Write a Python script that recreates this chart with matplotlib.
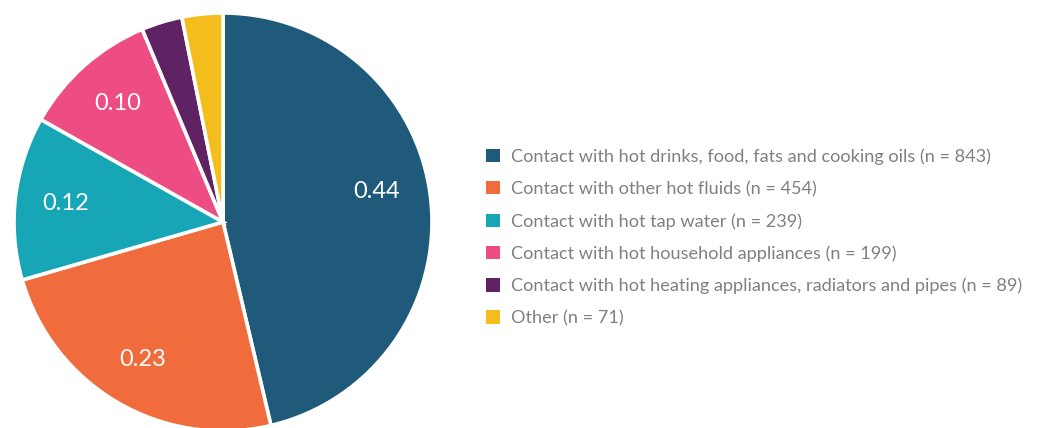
import matplotlib
matplotlib.use("Agg")
import matplotlib.pyplot as plt
from matplotlib.patches import Patch

# Share of burn injuries by cause
categories = [
    "Contact with hot drinks, food, fats and cooking oils",
    "Contact with other hot fluids",
    "Contact with hot tap water",
    "Contact with hot household appliances",
    "Contact with hot heating appliances, radiators and pipes",
    "Other",
]
counts = [843, 454, 239, 199, 89, 71]
shares = [0.44, 0.23, 0.12, 0.10, 0.03, 0.03]
show_label = [True, True, True, True, False, False]
colors = ["#1f5a7a", "#f06c3c", "#17a6b5", "#ee4d83", "#5f2363", "#f3be1d"]

W, H = 1044, 428
fig = plt.figure(figsize=(W / 100, H / 100), dpi=100)

cx, cy, r = 223, 222, 209
ax = fig.add_axes([(cx - r) / W, (H - cy - r) / H, 2 * r / W, 2 * r / H])

labels = [f"{s:.2f}" if show else "" for s, show in zip(shares, show_label)]
wedges, texts = ax.pie(
    shares,
    colors=colors,
    startangle=90,
    counterclock=False,
    normalize=True,
    wedgeprops=dict(edgecolor="white", linewidth=2.6),
    labels=labels,
    labeldistance=0.76,
    textprops=dict(color="white", fontsize=17, family="Lato", ha="center", va="center"),
)
# lift the largest slice's label a little towards the top
x0, y0 = texts[0].get_position()
texts[0].set_position((x0 - 0.02, y0 + 0.06))

ax.set_xlim(-1, 1)
ax.set_ylim(-1, 1)
ax.set_aspect("equal")
ax.axis("off")

handles = [Patch(facecolor=c, edgecolor="none") for c in colors]
legend_labels = [f"{cat} (n = {n})" for cat, n in zip(categories, counts)]
leg = fig.legend(
    handles,
    legend_labels,
    loc="center left",
    bbox_to_anchor=(486 / W, 1 - 237.5 / H),
    frameon=False,
    prop=dict(family="Lato", size=13.1),
    handlelength=0.78,
    handleheight=0.74,
    handletextpad=0.62,
    labelspacing=0.87,
    borderpad=0,
    borderaxespad=0,
)
for t in leg.get_texts():
    t.set_color("#808080")

fig.savefig("out.png", dpi=100)
